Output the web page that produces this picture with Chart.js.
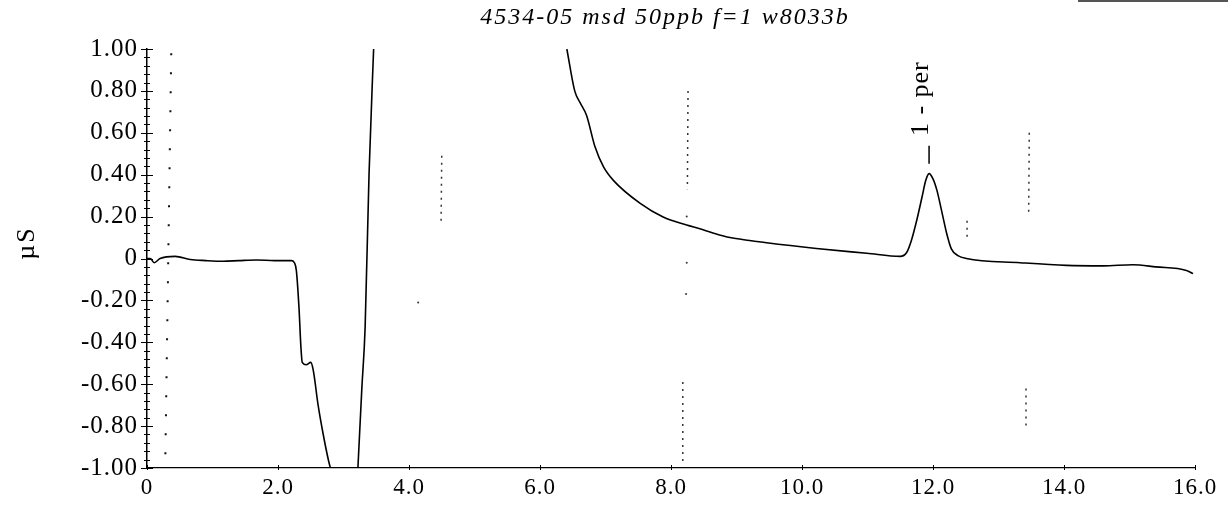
<!DOCTYPE html>
<html><head><meta charset="utf-8">
<script src="https://cdn.jsdelivr.net/npm/chart.js@4.4.0/dist/chart.umd.min.js"></script>
<style>
html,body{margin:0;padding:0;background:#fff;}
#wrap{position:relative;width:1228px;height:518px;}
#scan{position:absolute;left:1078px;top:0;width:150px;height:2px;background:#555;}
</style></head><body>
<div id="wrap"><canvas id="c" width="1228" height="518"></canvas><div id="scan"></div></div>
<script>
// ---- data ----
const chartTitle = '4534-05 msd 50ppb f=1 w8033b';
const yAxisTitle = 'µS';
const xRange = [0, 16];
const yRange = [-1, 1];
const xStep = 2;
const yStep = 0.2;
const yMinorStep = 0.04;

// retention time (min) and conductivity (µS); null = trace off scale
const times = [0.00,0.05,0.11,0.20,0.43,0.66,0.90,1.16,1.40,1.67,1.95,2.21,2.25,2.28,2.32,2.35,2.37,2.43,2.50,2.54,2.61,2.69,2.77,2.80,
  3.00,
  3.22,3.28,3.33,3.39,3.46,
  5.00,
  6.41,6.53,6.61,6.71,6.84,6.97,7.12,7.53,7.88,8.24,8.44,8.64,8.90,9.20,9.46,10.22,10.99,11.50,11.60,11.67,11.75,11.83,11.89,11.94,12.00,12.06,12.13,12.21,12.28,12.38,12.51,13.33,14.04,14.60,15.05,15.40,15.87,15.97];
const signal = [0.000,0.000,-0.020,0.000,0.010,-0.005,-0.010,-0.013,-0.010,-0.007,-0.010,-0.010,-0.020,-0.057,-0.233,-0.424,-0.496,-0.507,-0.496,-0.536,-0.695,-0.839,-0.963,-1.000,
  null,
  -1.000,-0.620,-0.330,0.405,1.000,
  null,
  1.000,0.800,0.745,0.684,0.533,0.437,0.373,0.263,0.198,0.160,0.142,0.122,0.100,0.086,0.075,0.048,0.025,0.010,0.030,0.086,0.180,0.290,0.373,0.405,0.380,0.325,0.230,0.118,0.046,0.014,0.000,-0.020,-0.033,-0.035,-0.030,-0.040,-0.057,-0.072];

// peak annotation
const peakTimes = [11.94];
const peakHeights = [0.405];
const peakNames = ['1 - per'];

// dotted marker lines (injection marker + event marks)
const injectTimes = [0.37, 0.28];
const injectValues = [0.98, -0.95];
const eventTimes  = [4.50,4.49,4.49, 8.26,8.25,8.25, 8.18,8.18,8.18, 13.47,13.46,13.46, 13.42,13.42,13.42, 12.52,12.52];
const eventValues = [0.49,0.17,null, 0.80,0.33,null, -0.59,-0.98,null, 0.60,0.20,null, -0.62,-0.82,null, 0.18,0.10];
const strayTimes  = [8.24, 8.24, 8.23, 4.14];
const strayValues = [0.20, -0.02, -0.17, -0.21];

const pts = (xs, ys) => xs.map((x, i) => ({x, y: ys[i]}));

const SERIF = '"Liberation Serif", "DejaVu Serif", serif';

const decor = {
  id: 'decor',
  beforeDraw(chart) {
    chart.ctx.letterSpacing = '1px';
  },
  afterDraw(chart) {
    const {ctx, scales: {x, y}} = chart;
    ctx.save();
    ctx.strokeStyle = '#000';
    ctx.lineWidth = 1;
    // y-axis ticks (major crosses + minor)
    const ax = x.left;
    const n = Math.round((yRange[1] - yRange[0]) / yMinorStep);
    const per = Math.round(yStep / yMinorStep);
    for (let i = 0; i <= n; i++) {
      const v = yRange[0] + i * yMinorStep;
      const py = Math.round(y.getPixelForValue(v)) + 0.5;
      const len = (i % per === 0) ? 6 : 3;
      ctx.beginPath();
      ctx.moveTo(ax - len, py);
      ctx.lineTo(ax + len, py);
      ctx.stroke();
    }
    // x-axis ticks
    for (let v = xRange[0]; v <= xRange[1]; v += xStep) {
      const px = Math.round(x.getPixelForValue(v)) + 0.5;
      ctx.beginPath();
      ctx.moveTo(px, y.bottom - 3);
      ctx.lineTo(px, y.bottom + 2);
      ctx.stroke();
    }
    // title
    ctx.fillStyle = '#000';
    ctx.letterSpacing = '2px';
    ctx.font = 'italic 24px ' + SERIF;
    ctx.textAlign = 'center';
    ctx.textBaseline = 'alphabetic';
    ctx.fillText(chartTitle, 665, 24);
    // y axis title
    ctx.save();
    ctx.translate(34, 243);
    ctx.rotate(-Math.PI / 2);
    ctx.letterSpacing = '2px';
    ctx.font = '26px ' + SERIF;
    ctx.textAlign = 'center';
    ctx.fillText(yAxisTitle, 0, 0);
    ctx.restore();
    // peak labels
    peakTimes.forEach((t, i) => {
      const px = x.getPixelForValue(t);
      const py = y.getPixelForValue(peakHeights[i]);
      ctx.beginPath();
      ctx.lineWidth = 1.5;
      ctx.moveTo(px, py - 28);
      ctx.lineTo(px, py - 10);
      ctx.stroke();
      ctx.save();
      ctx.translate(px - 1, py - 75);
      ctx.rotate(-Math.PI / 2);
      ctx.letterSpacing = '1px';
      ctx.font = '26px ' + SERIF;
      ctx.textAlign = 'center';
      ctx.fillText(peakNames[i], 0, 0);
      ctx.restore();
    });
    ctx.restore();
  }
};

new Chart(document.getElementById('c'), {
  type: 'line',
  data: {
    datasets: [
      { data: pts(times, signal), borderColor: '#000', borderWidth: 1.6, pointRadius: 0,
        cubicInterpolationMode: 'monotone', spanGaps: false },
      { data: pts(injectTimes, injectValues), borderColor: '#111', borderWidth: 2, pointRadius: 0,
        borderDash: [2, 17] },
      { data: pts(eventTimes, eventValues), borderColor: '#333', borderWidth: 1.5, pointRadius: 0,
        borderDash: [2, 5], spanGaps: false },
      { data: pts(strayTimes, strayValues), showLine: false, pointRadius: 1, pointBackgroundColor: '#333',
        pointBorderWidth: 0 }
    ]
  },
  options: {
    responsive: false,
    animation: false,
    devicePixelRatio: 1,
    layout: { padding: { top: 49, right: 33, left: 0, bottom: 0 } },
    plugins: { legend: { display: false }, tooltip: { enabled: false } },
    scales: {
      x: {
        type: 'linear', min: xRange[0], max: xRange[1],
        afterFit: s => { s.height = 50; },
        grid: { display: false, drawTicks: true, tickLength: 2 },
        border: { display: true, color: '#000', width: 1.2, dash: [18, 4] },
        ticks: { stepSize: xStep, color: '#000', padding: 4, maxRotation: 0, autoSkip: false,
          font: { family: SERIF, size: 23 },
          callback: v => Math.abs(v) < 1e-9 ? '0' : Number(v).toFixed(1) }
      },
      y: {
        type: 'linear', min: yRange[0], max: yRange[1],
        afterFit: s => { s.width = 147; },
        grid: { display: false, drawTicks: true, tickLength: 6 },
        border: { display: true, color: '#000', width: 1.5 },
        ticks: { stepSize: yStep, color: '#000', padding: 3, autoSkip: false,
          font: { family: SERIF, size: 25 },
          callback: v => Math.abs(v) < 1e-9 ? '0' : Number(v).toFixed(2) }
      }
    }
  },
  plugins: [decor]
});
</script>
</body></html>
